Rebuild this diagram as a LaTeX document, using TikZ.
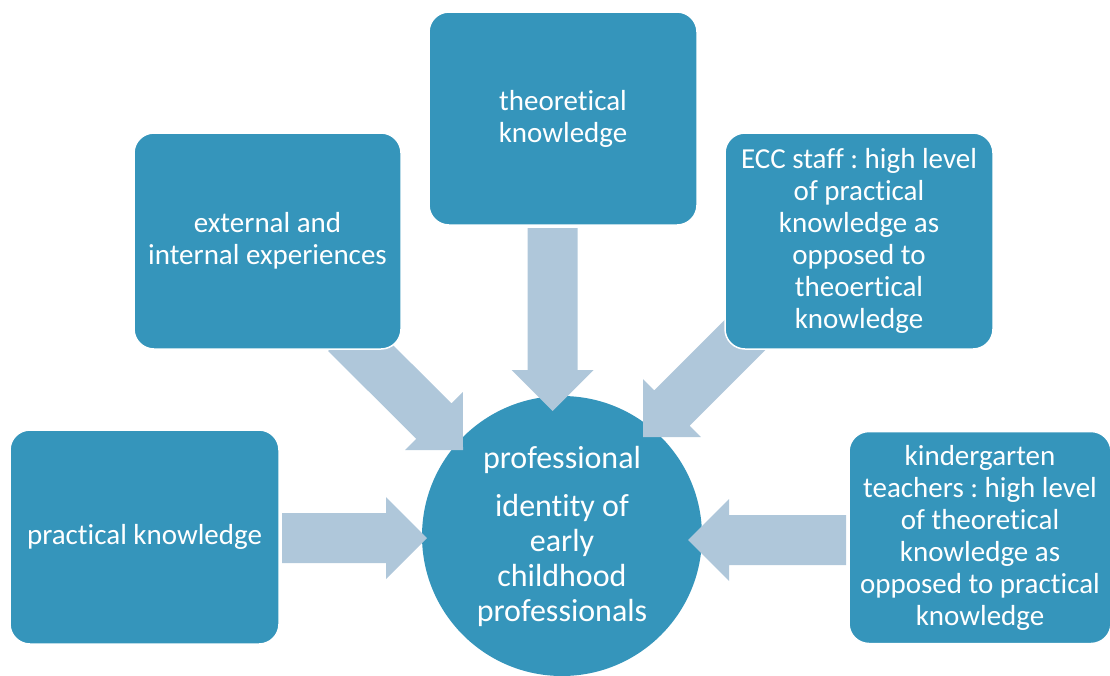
\documentclass[tikz,border=0pt]{standalone}
\usepackage{fontspec}
\setmainfont{Carlito}[RawFeature={-liga;-clig;-calt;-dlig}]
\usepackage{xcolor}
\usepackage{tikz}
\usetikzlibrary{calc}
\frenchspacing
\definecolor{boxblue}{HTML}{3595BB}
\definecolor{arrowblue}{HTML}{AFC7DA}
\tikzset{box/.style={rectangle,rounded corners=20pt,fill=boxblue,draw=white,line width=1.5pt,text=white,align=center,inner sep=2pt,font=\fontsize{29}{32}\selectfont}}
\tikzset{hub/.style={circle,fill=boxblue,text=white,align=center,inner sep=0pt,minimum size=280pt,font=\fontsize{32}{35}\selectfont}}
\tikzset{fat/.style={fill=arrowblue}}
% block arrow from #1 (tail) to #2 (tip)
\newcommand{\fatarrow}[2]{%
  \coordinate (fa-h) at ($(#2)!41pt!(#1)$);
  \fill[fat] ($(#1)!25pt!90:(#2)$) -- ($(fa-h)!25pt!90:(#2)$) -- ($(fa-h)!41pt!90:(#2)$)
    -- (#2) -- ($(fa-h)!41pt!-90:(#2)$) -- ($(fa-h)!25pt!-90:(#2)$) -- ($(#1)!25pt!-90:(#2)$) -- cycle;}

\begin{document}
\begin{tikzpicture}[x=1pt,y=-1pt]
\useasboundingbox (0,0) rectangle (1110,675);
% arrow ends
\coordinate (pk-out) at (282,538);   \coordinate (core-w) at (427,538);
\coordinate (kg-out) at (846,540);   \coordinate (core-e) at (688,540);
\coordinate (th-out) at (552.5,228); \coordinate (core-n) at (552.5,411);
\coordinate (ext-out) at (345.7,333.3); \coordinate (core-nw) at (463,450);
\coordinate (ecc-out) at (760,320);  \coordinate (core-ne) at (643,437);
\node[hub] (core) at (562,536) {professional\\[13pt]identity of\\early\\childhood\\professionals};
\fatarrow{pk-out}{core-w}
\fatarrow{kg-out}{core-e}
\fatarrow{th-out}{core-n}
\fatarrow{ext-out}{core-nw}
\fatarrow{ecc-out}{core-ne}
\node[box,minimum width=269pt,minimum height=214pt] (pk) at (144.5,537) {practical knowledge};
\node[box,minimum width=267pt,minimum height=216pt] (ext) at (267.5,241) {external and\\internal experiences};
\node[box,minimum width=268pt,minimum height=213pt] (th) at (563,118.5) {theoretical\\knowledge};
\node[box,minimum width=268pt,minimum height=216pt] (ecc) at (859,241) {ECC staff : high level\\of practical\\knowledge as\\opposed to\\theoertical\\knowledge};
\node[box,minimum width=262pt,minimum height=212pt] (kg) at (980,537.5) {kindergarten\\teachers : high level\\of theoretical\\knowledge as\\opposed to practical\\knowledge};
\end{tikzpicture}
\end{document}
